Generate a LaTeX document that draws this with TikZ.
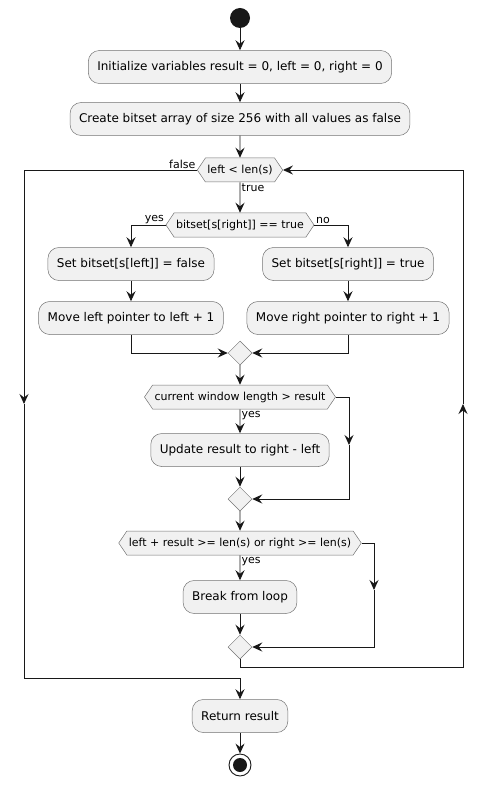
\documentclass[tikz,border=0pt]{standalone}
\usepackage{fontspec}
\setmainfont{DejaVu Sans}
\usepackage{xcolor}
\usepackage{tikz}
\usetikzlibrary{shapes,arrows.meta,positioning}

\definecolor{boxfill}{HTML}{F1F1F1}
\definecolor{ink}{HTML}{181818}

\begin{document}
\begin{tikzpicture}[
    x=1pt, y=1pt,
    action/.style={rectangle, rounded corners=11pt, draw=black!55, line width=0.5pt, fill=boxfill, minimum height=33pt, inner xsep=9pt, font=\fontsize{12}{14}\selectfont},
    cond/.style={signal, signal to=east and west, signal pointer angle=112, draw=black!55, line width=0.5pt, fill=boxfill, minimum height=24pt, inner xsep=2pt, inner ysep=0pt, font=\fontsize{11}{13}\selectfont},
    merge/.style={diamond, draw=black!55, line width=0.5pt, fill=boxfill, minimum size=24pt, inner sep=0pt},
    tag/.style={inner sep=1.5pt, font=\fontsize{11}{13}\selectfont},
    arrow/.style={-{Stealth[length=10pt, width=9pt, inset=3.5pt]}, ink, line width=0.9pt},
    line/.style={ink, line width=0.9pt}
]
\useasboundingbox (0,0) rectangle (488,-786);

% Start and init
\node[circle, fill=ink, minimum size=20pt, inner sep=0pt] (start) at (240,-18) {};
\node[action] (init) at (240,-67) {Initialize variables result = 0, left = 0, right = 0};
\node[action] (bits) at (240,-119) {Create bitset array of size 256 with all values as false};

% Loop head
\node[cond] (loop) at (240,-170) {left < len(s)};
\node[cond] (check) at (240,-225) {bitset[s[right]] == true};

% Branches
\node[action] (setl) at (131,-264) {Set bitset[s[left]] = false};
\node[action] (movel) at (131,-318) {Move left pointer to left + 1};
\node[action] (setr) at (348,-264) {Set bitset[s[right]] = true};
\node[action] (mover) at (348,-318) {Move right pointer to right + 1};
\node[merge] (m1) at (240,-353) {};

% Window update
\node[cond] (win) at (240,-397) {current window length > result};
\node[action] (upd) at (240,-450) {Update result to right - left};
\node[merge] (m2) at (240,-499) {};

% Break test
\node[cond] (brk) at (240,-543) {left + result >= len(s) or right >= len(s)};
\node[action] (stop) at (240,-597) {Break from loop};
\node[merge] (m3) at (240,-647) {};

% Exit
\node[action] (ret) at (240,-716) {Return result};
\node[circle, draw=ink, line width=0.9pt, fill=white, minimum size=22pt, inner sep=0pt] (endo) at (240,-765) {};
\node[circle, fill=ink, minimum size=14pt, inner sep=0pt] (endi) at (240,-765) {};

% Helper points
\coordinate (lmid) at (24,-404);
\coordinate (exit) at (240,-678);
\coordinate (back) at (240,-667);
\coordinate (rmid) at (463,-404);
\coordinate (wmid) at (349,-445);
\coordinate (bmid) at (374,-590);

% Main flow
\draw[arrow] (start) -- (init);
\draw[arrow] (init) -- (bits);
\draw[arrow] (bits) -- (loop);
\draw[arrow] (loop) -- (check);
\node[tag, anchor=north west] (ltrue) at (loop.south) {true};

% yes / no branches
\draw[arrow] (check.west) -| (setl);
\draw[arrow] (check.east) -| (setr);
\node[tag, anchor=south east] (cyes) at (check.west) {yes};
\node[tag, anchor=south west] (cno) at (check.east) {no};
\draw[arrow] (setl) -- (movel);
\draw[arrow] (setr) -- (mover);
\draw[arrow] (movel) |- (m1.west);
\draw[arrow] (mover) |- (m1.east);
\draw[arrow] (m1) -- (win);

% window check
\draw[arrow] (win) -- (upd);
\node[tag, anchor=north west] (wyes) at (win.south) {yes};
\draw[arrow] (upd) -- (m2);
\draw[arrow] (win.east) -| (wmid);
\draw[arrow] (wmid) |- (m2.east);
\draw[arrow] (m2) -- (brk);

% break check
\draw[arrow] (brk) -- (stop);
\node[tag, anchor=north west] (byes) at (brk.south) {yes};
\draw[arrow] (stop) -- (m3);
\draw[arrow] (brk.east) -| (bmid);
\draw[arrow] (bmid) |- (m3.east);

% back to loop head
\draw[arrow] (m3.south) -- (back) -| (rmid);
\draw[arrow] (rmid) |- (loop.east);

% leave loop
\draw[arrow] (loop.west) -| (lmid);
\node[tag, anchor=south east] (lfalse) at (loop.west) {false};
\draw[arrow] (lmid) |- (exit) -- (ret);
\draw[arrow] (ret) -- (endo);

\end{tikzpicture}
\end{document}
